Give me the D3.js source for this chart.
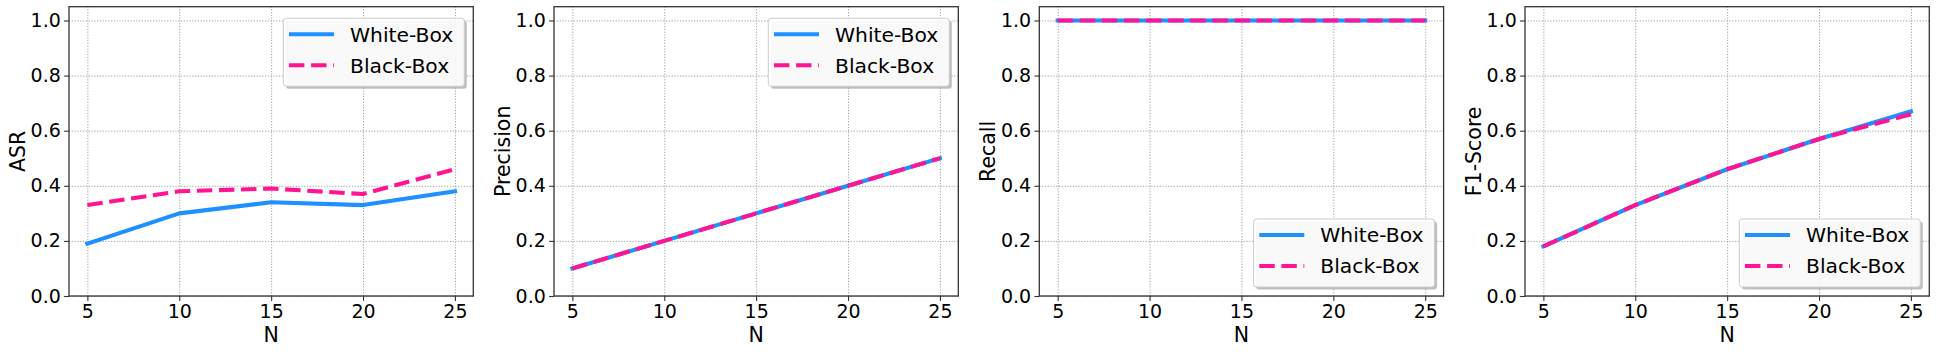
<!DOCTYPE html>
<html>
	<head>
		<meta charset="utf-8">
		<title>Attack metrics vs N</title>
		<script src="https://d3js.org/d3.v7.min.js"></script>
		<style>
			body { margin: 0; background: #fff; }
			text { font-family: "DejaVu Sans", sans-serif; fill: #000; }
		</style>
	</head>
	<body>
		<script>
			// data
			var nValues = [5, 10, 15, 20, 25];
			var seriesNames = ["White-Box", "Black-Box"];
			var metricLabels = ["ASR", "Precision", "Recall", "F1-Score"];
			var asrWhite = [0.19, 0.30, 0.34, 0.33, 0.38];
			var asrBlack = [0.33, 0.38, 0.39, 0.37, 0.46];
			var precisionWhite = [0.10, 0.20, 0.30, 0.40, 0.50];
			var precisionBlack = [0.10, 0.20, 0.30, 0.40, 0.50];
			var recallWhite = [1.0, 1.0, 1.0, 1.0, 1.0];
			var recallBlack = [1.0, 1.0, 1.0, 1.0, 1.0];
			var f1White = [0.18, 0.33, 0.46, 0.57, 0.67];
			var f1Black = [0.18, 0.33, 0.46, 0.57, 0.66];
			var yTicks = [0, 0.2, 0.4, 0.6, 0.8, 1.0];
			var legendPos = ["upper", "upper", "lower", "lower"];

			var panels = [
				[asrWhite, asrBlack],
				[precisionWhite, precisionBlack],
				[recallWhite, recallBlack],
				[f1White, f1Black]
			];

			var w = 1937;
			var h = 354;
			var axLeft = [69, 554, 1039.3, 1525];
			var axW = 404.3;
			var axTop = 6.7;
			var axBottom = 296;
			var colors = ["#1E90FF", "#FF1493"];

			var svg = d3.select("body")
						.append("svg")
						.attr("width", w)
						.attr("height", h);

			function gridStyle(s) {
				s.select(".domain").remove();
				s.selectAll("line").attr("stroke", "#a0a0a0").attr("stroke-width", 1).attr("stroke-dasharray", "1.2,1.6");
			}
			function tickStyle(s) {
				s.select(".domain").remove();
				s.selectAll("line").attr("stroke", "#333").attr("stroke-width", 1.1);
				s.selectAll("text").attr("font-size", 19).attr("font-family", "DejaVu Sans");
			}

			panels.forEach(function(series, i) {
				var x0 = axLeft[i];
				var xScale = d3.scaleLinear()
					.domain([4, 26])
					.range([x0, x0 + axW]);
				var yScale = d3.scaleLinear()
					.domain([0, 1.05])
					.range([axBottom, axTop]);

				var g = svg.append("g");

				// grid
				g.append("g")
					.attr("transform", "translate(0," + axBottom + ")")
					.call(d3.axisBottom(xScale).tickValues(nValues).tickSize(-(axBottom - axTop)).tickFormat(""))
					.call(gridStyle);
				g.append("g")
					.attr("transform", "translate(" + x0 + ",0)")
					.call(d3.axisLeft(yScale).tickValues(yTicks).tickSize(-axW).tickFormat(""))
					.call(gridStyle);

				// lines
				series.forEach(function(vals, k) {
					var line = d3.line()
						.x(function(d, j) { return xScale(nValues[j]); })
						.y(function(d) { return yScale(d); });
					var p = g.append("path")
						.datum(vals)
						.attr("d", line)
						.attr("fill", "none")
						.attr("stroke", colors[k])
						.attr("stroke-width", 4.1)
						.attr("stroke-linejoin", "round");
					if (k == 1) {
						p.attr("stroke-dasharray", "15.4,6.7").attr("stroke-linecap", "butt");
					} else {
						p.attr("stroke-linecap", "square");
					}
				});

				// axes
				g.append("g")
					.attr("transform", "translate(0," + axBottom + ")")
					.call(d3.axisBottom(xScale).tickValues(nValues).tickSize(4.9).tickSizeOuter(0).tickPadding(3.9))
					.call(tickStyle);
				g.append("g")
					.attr("transform", "translate(" + x0 + ",0)")
					.call(d3.axisLeft(yScale).tickValues(yTicks).tickFormat(d3.format(".1f")).tickSize(4.9).tickSizeOuter(0).tickPadding(3.3))
					.call(tickStyle);

				// frame
				g.append("rect")
					.attr("x", x0)
					.attr("y", axTop)
					.attr("width", axW)
					.attr("height", axBottom - axTop)
					.attr("fill", "none")
					.attr("stroke", "#333")
					.attr("stroke-width", 1.3);

				// labels
				g.append("text")
					.attr("x", x0 + axW / 2)
					.attr("y", 341.5)
					.attr("text-anchor", "middle")
					.attr("font-size", 20.5)
					.text("N");
				g.append("text")
					.attr("transform", "translate(" + (x0 - 44) + "," + ((axTop + axBottom) / 2) + ") rotate(-90)")
					.attr("text-anchor", "middle")
					.attr("font-size", 20.5)
					.text(metricLabels[i]);

				// legend
				var lw = 181, lh = 68;
				var lx = x0 + axW - 9 - lw;
				var ly = legendPos[i] == "upper" ? axTop + 11.6 : axBottom - 9 - lh;
				var leg = g.append("g").attr("transform", "translate(" + lx + "," + ly + ")");
				leg.append("rect")
					.attr("x", 2.5).attr("y", 2.5)
					.attr("width", lw).attr("height", lh)
					.attr("rx", 3)
					.attr("fill", "#808080").attr("fill-opacity", 0.5);
				leg.append("rect")
					.attr("width", lw).attr("height", lh)
					.attr("rx", 3)
					.attr("fill", "#fff").attr("fill-opacity", 0.9)
					.attr("stroke", "#ccc").attr("stroke-width", 1);
				seriesNames.forEach(function(name, k) {
					var yy = 16 + k * 31;
					var l = leg.append("line")
						.attr("x1", 5.7).attr("x2", 50.7)
						.attr("y1", yy).attr("y2", yy)
						.attr("stroke", colors[k])
						.attr("stroke-width", 4.1);
					if (k == 1) l.attr("stroke-dasharray", "15.4,6.7");
					leg.append("text")
						.attr("x", 66.7)
						.attr("y", yy)
						.attr("dy", "0.36em")
						.attr("font-size", 20.3)
						.text(name);
				});
			});
		</script>
	</body>
</html>
